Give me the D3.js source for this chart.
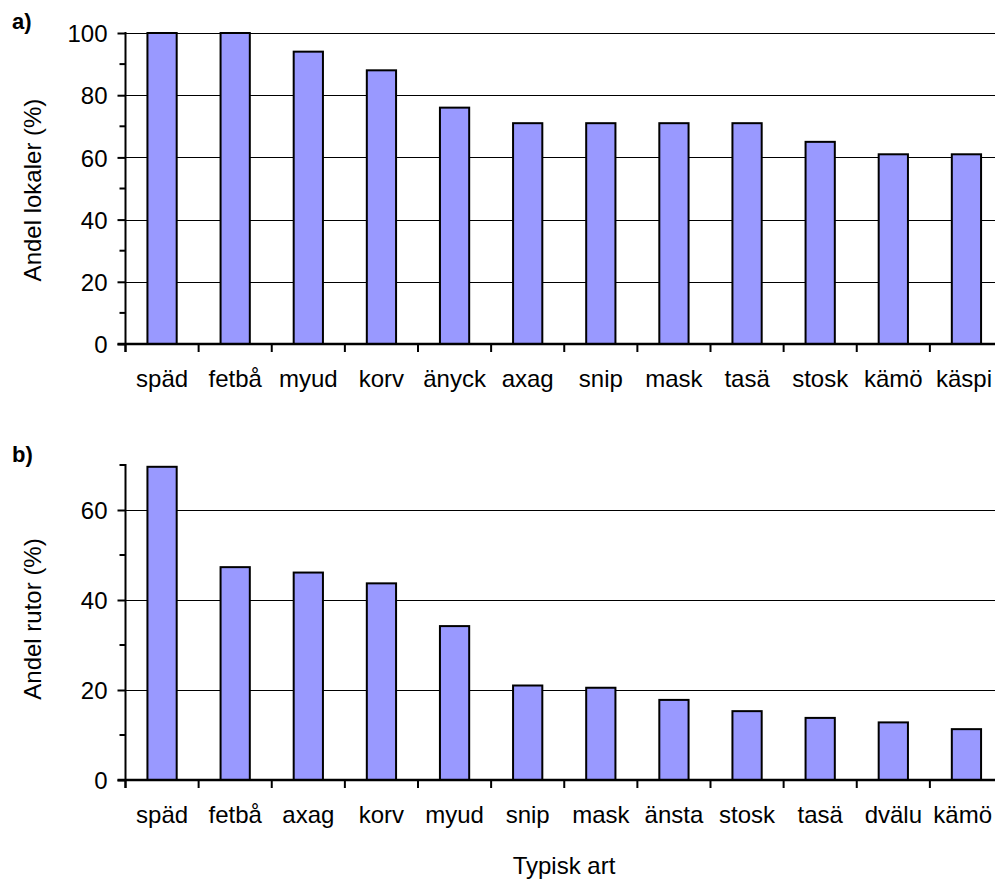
<!DOCTYPE html>
<html>
<head>
<meta charset="utf-8">
<script src="https://cdn.jsdelivr.net/npm/d3@7"></script>
<style>
  body { margin: 0; background: #fff; }
  svg text { font-family: "Liberation Sans", Arial, sans-serif; fill: #000; }
</style>
</head>
<body>
<svg id="chart" width="995" height="880"></svg>
<script>
// panel a) - share of localities
const speciesA = ["späd", "fetbå", "myud", "korv", "änyck", "axag", "snip", "mask", "tasä", "stosk", "kämö", "käspi"]
const valuesA = [100, 100, 94, 88, 76, 71, 71, 71, 71, 65, 61, 61]
const ticksA = [0, 20, 40, 60, 80, 100]

// panel b) - share of squares
const speciesB = ["späd", "fetbå", "axag", "korv", "myud", "snip", "mask", "änsta", "stosk", "tasä", "dvälu", "kämö"]
const valuesB = [69.6, 47.3, 46.1, 43.7, 34.2, 21.0, 20.5, 17.8, 15.3, 13.8, 12.8, 11.3]
const ticksB = [0, 20, 40, 60]

const svg = d3.select('#chart')

// draws one bar panel; everything positional lives here
const drawPanel = (opt) => {
	const left = 125.5, right = 1003
	const g = svg.append('g')

	const x = d3.scaleBand()
		.domain(opt.cats)
		.range([left, right])
		.paddingInner(0.6)
		.paddingOuter(0.3)
	// band edges for the x ticks (Excel puts ticks between categories)
	const step = x.step()
	const edges = d3.range(opt.cats.length + 1).map(i => left + i * step)

	const y = d3.scaleLinear()
		.domain([0, opt.max])
		.range([opt.bottom, opt.top])

	// gridlines
	g.selectAll('.grid')
		.data(opt.ticks.filter(d => d > 0))
		.join('line')
		.attr('x1', left).attr('x2', right)
		.attr('y1', d => Math.round(y(d)) + 0.5)
		.attr('y2', d => Math.round(y(d)) + 0.5)
		.attr('stroke', '#000')
		.attr('stroke-width', 1)

	// bars
	g.selectAll('.bar')
		.data(opt.vals)
		.join('rect')
		.attr('x', (d, i) => x(opt.cats[i]))
		.attr('width', x.bandwidth())
		.attr('y', d => y(d))
		.attr('height', d => y(0) - y(d))
		.attr('fill', '#9999ff')
		.attr('stroke', '#000')
		.attr('stroke-width', 2)

	// y axis: major ticks with labels, minor ticks in between
	const yAxis = d3.axisLeft(y)
		.tickValues(opt.ticks)
		.tickSize(8)
		.tickPadding(10)
		.tickFormat(d3.format('d'))
	const ya = g.append('g')
		.attr('transform', `translate(${left},0)`)
		.call(yAxis)
	ya.select('.domain').remove()
	ya.selectAll('line').attr('stroke', '#000').attr('stroke-width', 2)
	ya.selectAll('text')
		.style('font-size', '24px')
		.attr('dy', '0.36em')

	const minor = d3.range(10, opt.max + 1, 20)
	g.selectAll('.minor')
		.data(minor)
		.join('line')
		.attr('x1', left - 6).attr('x2', left)
		.attr('y1', d => y(d)).attr('y2', d => y(d))
		.attr('stroke', '#000')
		.attr('stroke-width', 2)

	g.append('line')
		.attr('x1', left).attr('x2', left)
		.attr('y1', y(opt.max) - 1).attr('y2', y(0) + 8)
		.attr('stroke', '#000')
		.attr('stroke-width', 2)

	// x axis
	g.append('line')
		.attr('x1', left - 8).attr('x2', right)
		.attr('y1', y(0)).attr('y2', y(0))
		.attr('stroke', '#000')
		.attr('stroke-width', 2.5)
	g.selectAll('.xtick')
		.data(edges)
		.join('line')
		.attr('x1', d => d).attr('x2', d => d)
		.attr('y1', y(0)).attr('y2', y(0) + 8)
		.attr('stroke', '#000')
		.attr('stroke-width', 2)
	g.selectAll('.xlab')
		.data(opt.cats)
		.join('text')
		.attr('x', d => x(d) + x.bandwidth() / 2)
		.attr('y', y(0) + 43)
		.attr('text-anchor', 'middle')
		.style('font-size', '24px')
		.text(d => d)
		// keep the last label inside the page, like Excel does
		.each(function() {
			const w = this.getComputedTextLength()
			const cx = +this.getAttribute('x')
			if (cx + w / 2 > 992) this.setAttribute('x', 992 - w / 2)
		})

	// y title
	g.append('text')
		.attr('transform', `translate(41,${opt.titleY}) rotate(-90)`)
		.attr('text-anchor', 'middle')
		.style('font-size', '24px')
		.text(opt.title)

	// panel letter
	g.append('text')
		.attr('x', 12)
		.attr('y', opt.letterY)
		.style('font-size', '22px')
		.style('font-weight', 'bold')
		.text(opt.letter)
}

drawPanel({cats: speciesA, vals: valuesA, ticks: ticksA, max: 100,
	top: 33, bottom: 344, title: 'Andel lokaler (%)', titleY: 190, letter: 'a)', letterY: 29})

drawPanel({cats: speciesB, vals: valuesB, ticks: ticksB, max: 70,
	top: 465, bottom: 780, title: 'Andel rutor (%)', titleY: 619, letter: 'b)', letterY: 462})

svg.append('text')
	.attr('x', 564)
	.attr('y', 874)
	.attr('text-anchor', 'middle')
	.style('font-size', '24px')
	.text('Typisk art')
</script>
</body>
</html>
